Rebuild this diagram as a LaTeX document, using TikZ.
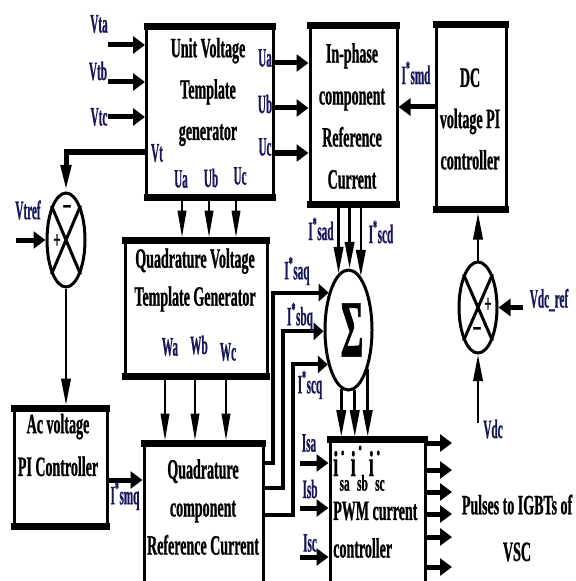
\documentclass[tikz,border=0pt]{standalone}
\usepackage{fontspec}
\setmainfont{Liberation Serif}
\newfontfamily\tfont{Liberation Serif}[FakeStretch=0.5,FakeBold=0.8]
\newfontfamily\lfont{Liberation Serif}[FakeStretch=0.42,FakeBold=0.6]
\newfontfamily\gfont{Liberation Serif}[FakeStretch=0.42,FakeBold=0.8]
\usetikzlibrary{arrows.meta,shapes.geometric,fit,calc}
\definecolor{lab}{RGB}{22,22,88}
\newcommand\pwmi[1]{i\kern1pt\raisebox{-11pt}{\shortstack[l]{\hspace{1.2pt}\fontsize{9}{9}\selectfont *\\[13pt]\fontsize{17}{17}\selectfont #1}}\kern0.8pt}
\tikzset{
 blk/.style={draw, line width=2.25pt, inner sep=0pt},
 edge/.style={line width=5.25pt, shorten <=-1.1pt, shorten >=-1.1pt},
 ttl/.style={font=\tfont\bfseries\fontsize{21}{#1}\selectfont, align=center, inner sep=0pt},
 ttl/.default=31,
 lbl/.style={font=\lfont\bfseries\fontsize{20}{20}\selectfont, text=lab, inner sep=0pt},
 sgn/.style={font=\tfont\bfseries\fontsize{#1}{#1}\selectfont, inner sep=0pt},
 big/.style={line width=3.75pt, -{Triangle[length=9pt,width=12.75pt]}},
 bigq/.style={line width=3pt, -{Triangle[length=7.5pt,width=13pt]}},
 slim/.style={line width=2pt, -{Triangle[length=20pt,width=7pt]}},
 hair/.style={line width=1.3pt, -{Triangle[length=20pt,width=6.5pt]}},
 vtl/.style={line width=3.75pt, -{Triangle[length=20pt,width=7.5pt]}},
 sumell/.style={draw, ellipse, line width=2.25pt, inner sep=0pt},
 xl/.style={line width=2.25pt},
}
\begin{document}
\begin{tikzpicture}[x=0.75pt,y=-0.75pt]
\useasboundingbox (0,0) rectangle (575,581);
% ---------------- boxes
\node[blk, fit={(146.5,28)(273.5,196)}] (uvtg) {};
\node[blk, fit={(310,27)(397,203)}] (ip) {};
\node[blk, fit={(436,26)(506,208)}] (dc) {};
\node[blk, fit={(125,242)(267,375)}] (qvtg) {};
\node[blk, fit={(14,410)(107,525)}] (ac) {};
\node[blk, fit={(144,445)(263,590)}] (qcrc) {};
\node[blk, fit={(330,441)(425,590)}] (pwm) {};
\foreach \b in {uvtg,ip,dc,qvtg,ac,qcrc,pwm}{
  \draw[edge] (\b.north west) -- (\b.north east);
  \draw[edge] (\b.south west) -- (\b.south east);
}
% ---------------- box texts
\node[ttl] (tuvtg) at (208,92) {Unit Voltage\\Template\\generator};
\node[ttl=31.5] (tip) at (352,116) {In-phase\\component\\Reference\\Current};
\node[ttl] (tdc) at (470,119) {DC\\voltage PI\\controller};
\node[ttl=28.5] (tqvtg) at (195,280) {Quadrature Voltage\\Template Generator};
\node[ttl=32] (tac) at (58,445) {Ac voltage\\PI Controller};
\node[ttl=28.5] (tqcrc) at (203,507) {Quadrature\\component\\Reference Current};
\node[ttl, anchor=base west] (tirow) at (333,476) {\fontsize{27}{27}\selectfont\pwmi{sa}\pwmi{sb}\pwmi{sc}};
\node[ttl, anchor=west] (tpwm1) at (333,511) {PWM current};
\node[ttl, anchor=west] (tpwm2) at (333,548) {controller};
\node[ttl=35] (tpulse) at (517,528) {Pulses to IGBTs of\\VSC};
% ---------------- summing junctions
\node[sumell, minimum width=28.5pt, minimum height=70.5pt] (vts) at (66,240) {};
\draw[xl] (vts.north west) -- (vts.south east) (vts.north east) -- (vts.south west);
\node[sumell, minimum width=35.25pt, minimum height=90pt] (sum) at (348.5,330) {};
\node[sumell, minimum width=28.5pt, minimum height=68.25pt] (dcs) at (478,307.5) {};
\draw[xl] (dcs.north west) -- (dcs.south east) (dcs.north east) -- (dcs.south west);
\node[font=\gfont\bfseries\fontsize{61}{61}\selectfont, inner sep=0pt] (sig) at (352,330) {Σ};
\node[sgn=24] (vtm) at (67,211) {−};
\node[sgn=18] (vtp) at (57,241) {+};
\node[sgn=18] (dcp) at (488,305) {+};
\node[sgn=24] (dcm) at (477,333) {−};
% ---------------- free ends
\coordinate (vtain) at (108,45);
\coordinate (vtbin) at (108,82);
\coordinate (vtcin) at (108,117);
\coordinate (vtrefin) at (16,240);
\coordinate (vdcrefin) at (523,307.5);
\coordinate (vdcin) at (478,423);
\coordinate (isain) at (300,463);
\coordinate (isbin) at (300,508);
\coordinate (iscin) at (300,557);
% ---------------- connectors
\draw[big] (vtain) -- (uvtg.west |- vtain);
\draw[big] (vtbin) -- (uvtg.west |- vtbin);
\draw[big] (vtcin) -- (uvtg.west |- vtcin);
\foreach \y in {63,108,153} \draw[big] (uvtg.east |- 0,\y) -- (ip.west |- 0,\y);
\draw[big] (dc.west |- 0,107) -- (ip.east |- 0,107);
\draw[vtl] (uvtg.west |- 0,152) -| (vts.north);
\draw[big] (vtrefin) -- (vts.west);
\draw[slim, shorten >=2.5pt] (vts.south) -- (vts.south |- ac.north);
\foreach \x in {182,209,236} \draw[hair, shorten >=2.5pt] (uvtg.south -| \x,0) -- (qvtg.north -| \x,0);
\foreach \x in {165,195,226} \draw[hair, shorten >=2.5pt] (qvtg.south -| \x,0) -- (qcrc.north -| \x,0);
\draw[big] (ac.east |- 0,480) -- (qcrc.west |- 0,480);
\draw[bigq] (qcrc.east |- 0,463) -- (273,463) -- (273,0 |- sum.118.6) -- (sum.118.6);
\draw[bigq] (qcrc.east |- 0,488) -- (283,488) -- (283,0 |- sum.183) -- (sum.183);
\draw[bigq] (qcrc.east |- 0,515) -- (293,515) -- (293,0 |- sum.239) -- (sum.239);
\foreach \a in {100.4,89,77.6} \draw[slim] (ip.south -| sum.\a) -- (sum.\a);
\foreach \a in {263.6,276.4,296.6} \draw[slim, shorten >=2pt] (sum.\a) -- (sum.\a |- pwm.north);
\draw[slim, shorten >=2.5pt] (dcs.north) -- (dcs.north |- dc.south);
\draw[big] (vdcrefin) -- (dcs.east);
\draw[slim] (vdcin) -- (dcs.south);
\draw[big] (isain) -- (pwm.west |- isain);
\draw[big] (isbin) -- (pwm.west |- isbin);
\draw[big] (iscin) -- (pwm.west |- iscin);
\foreach \y [count=\i] in {443,470,492,514,537,567} {
  \coordinate (po\i) at (452,\y);
  \draw[big] (pwm.east |- po\i) -- (po\i);
}
% ---------------- labels
\node[lbl] (lvta) at (99,24) {Vta};
\node[lbl] (lvtb) at (98,71) {Vtb};
\node[lbl] (lvtc) at (99,117) {Vtc};
\node[lbl] (lua1) at (265,58) {Ua};
\node[lbl] (lub1) at (265,104) {Ub};
\node[lbl] (luc1) at (265,147) {Uc};
\node[lbl] (lvt) at (157,153) {Vt};
\node[lbl] (lua2) at (181,179) {Ua};
\node[lbl] (lub2) at (211,178) {Ub};
\node[lbl] (luc2) at (240,176) {Uc};
\node[lbl] (lwa) at (170,347) {Wa};
\node[lbl] (lwb) at (199,345) {Wb};
\node[lbl] (lwc) at (228,352) {Wc};
\node[lbl] (lvtref) at (28,210) {Vtref};
\node[lbl] (lsmd) at (416,73) {I\textsuperscript{*}smd};
\node[lbl] (lsad) at (321,229) {I\textsuperscript{*}sad};
\node[lbl] (lscd) at (381,232) {I\textsuperscript{*}scd};
\node[lbl] (lsaq) at (297,271) {I\textsuperscript{*}saq};
\node[lbl] (lsbq) at (300,317) {I\textsuperscript{*}sbq};
\node[lbl] (lscq) at (310,385) {I\textsuperscript{*}scq};
\node[lbl] (lsmq) at (125,496) {I\textsuperscript{*}smq};
\node[lbl] (lvdcref) at (549,300) {Vdc\_ref};
\node[lbl] (lvdc) at (493,429) {Vdc};
\node[lbl] (lisa) at (309,443) {Isa};
\node[lbl] (lisb) at (310,489) {Isb};
\node[lbl] (lisc) at (310,543) {Isc};
\end{tikzpicture}
\end{document}
